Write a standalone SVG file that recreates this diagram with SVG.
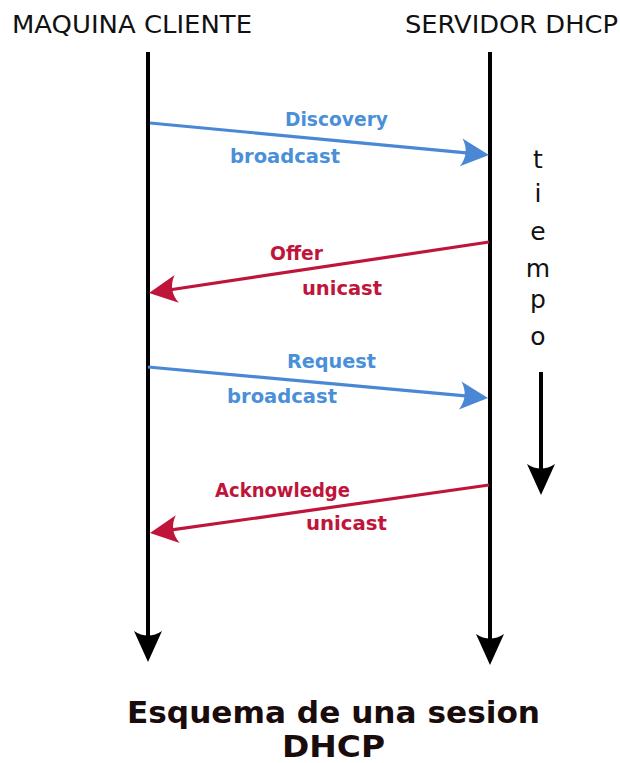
<svg xmlns="http://www.w3.org/2000/svg" width="620" height="763" viewBox="0 0 620 763">
  <style>
    .head { font-family: "DejaVu Sans", "Liberation Sans", sans-serif; font-size: 25px; fill: #111; }
    .life { stroke: #000; stroke-width: 4; fill: none; }
    .msg { stroke-width: 3.2; fill: none; }
    .blue { stroke: #4a88d6; }
    .red { stroke: #c0153a; }
    .lbl { font-family: "DejaVu Sans", "Liberation Sans", sans-serif; font-size: 19px; font-weight: bold; }
    .lb { fill: #4a90d9; }
    .lr { fill: #c0153a; }
    .time { font-family: "DejaVu Sans", "Liberation Sans", sans-serif; font-size: 25px; fill: #111; }
    .title { font-family: "DejaVu Sans", "Liberation Sans", sans-serif; font-size: 30px; font-weight: bold; fill: #1a0c0c; }
  </style>
  <defs>
    <marker id="headBlack" markerUnits="userSpaceOnUse" viewBox="-10 -16 34 32" markerWidth="34" markerHeight="32" refX="0" refY="0" orient="auto">
      <path d="M24,0 L-7,-14 C-1,-5 -1,5 -7,14 Z" fill="#000"/>
    </marker>
    <marker id="headBlue" markerUnits="userSpaceOnUse" viewBox="-10 -16 34 32" markerWidth="34" markerHeight="32" refX="0" refY="0" orient="auto">
      <path d="M20,0 L-8,-14 C-2,-5 -2,5 -8,14 Z" fill="#4a88d6"/>
    </marker>
    <marker id="headRed" markerUnits="userSpaceOnUse" viewBox="-10 -16 34 32" markerWidth="34" markerHeight="32" refX="0" refY="0" orient="auto">
      <path d="M20,0 L-8,-14 C-2,-5 -2,5 -8,14 Z" fill="#c0153a"/>
    </marker>
  </defs>

  <!-- participants -->
  <g id="cliente">
    <text class="head" x="12" y="33" textLength="240" lengthAdjust="spacingAndGlyphs">MAQUINA CLIENTE</text>
  </g>
  <g id="servidor">
    <text class="head" x="405" y="33" textLength="213" lengthAdjust="spacingAndGlyphs">SERVIDOR DHCP</text>
  </g>

  <!-- lifelines and messages -->
  <g id="connectors">
    <line class="life" x1="148" y1="52" x2="148" y2="638" marker-end="url(#headBlack)"/>
    <line class="life" x1="490" y1="52" x2="490" y2="641" marker-end="url(#headBlack)"/>

    <line class="msg blue" x1="150" y1="123" x2="469.1" y2="153.1" marker-end="url(#headBlue)"/>
    <line class="msg red" x1="489" y1="242" x2="168.8" y2="290" marker-end="url(#headRed)"/>
    <line class="msg blue" x1="148" y1="367" x2="468.1" y2="396.2" marker-end="url(#headBlue)"/>
    <line class="msg red" x1="489" y1="485" x2="169.8" y2="530.2" marker-end="url(#headRed)"/>

    <line class="life" x1="541" y1="372" x2="541" y2="471" marker-end="url(#headBlack)"/>
  </g>

  <!-- message labels -->
  <g id="discovery">
    <text class="lbl lb" x="285" y="126" textLength="103" lengthAdjust="spacingAndGlyphs">Discovery</text>
    <text class="lbl lb" x="230" y="163" textLength="110" lengthAdjust="spacingAndGlyphs">broadcast</text>
  </g>
  <g id="offer">
    <text class="lbl lr" x="270" y="260" textLength="53" lengthAdjust="spacingAndGlyphs">Offer</text>
    <text class="lbl lr" x="302" y="295" textLength="80" lengthAdjust="spacingAndGlyphs">unicast</text>
  </g>
  <g id="request">
    <text class="lbl lb" x="287" y="368" textLength="89" lengthAdjust="spacingAndGlyphs">Request</text>
    <text class="lbl lb" x="227" y="403" textLength="110" lengthAdjust="spacingAndGlyphs">broadcast</text>
  </g>
  <g id="acknowledge">
    <text class="lbl lr" x="215" y="497" textLength="135" lengthAdjust="spacingAndGlyphs">Acknowledge</text>
    <text class="lbl lr" x="306" y="530" textLength="81" lengthAdjust="spacingAndGlyphs">unicast</text>
  </g>

  <!-- time axis -->
  <g id="tiempo" text-anchor="middle">
    <text class="time" x="538" y="168">t</text>
    <text class="time" x="538" y="202">i</text>
    <text class="time" x="538" y="240">e</text>
    <text class="time" x="538" y="277">m</text>
    <text class="time" x="538" y="308">p</text>
    <text class="time" x="538" y="345">o</text>
  </g>

  <!-- caption -->
  <g id="titulo">
    <text class="title" x="127" y="723" textLength="413" lengthAdjust="spacingAndGlyphs">Esquema de una sesion</text>
    <text class="title" x="282" y="757" textLength="103" lengthAdjust="spacingAndGlyphs">DHCP</text>
  </g>
</svg>
